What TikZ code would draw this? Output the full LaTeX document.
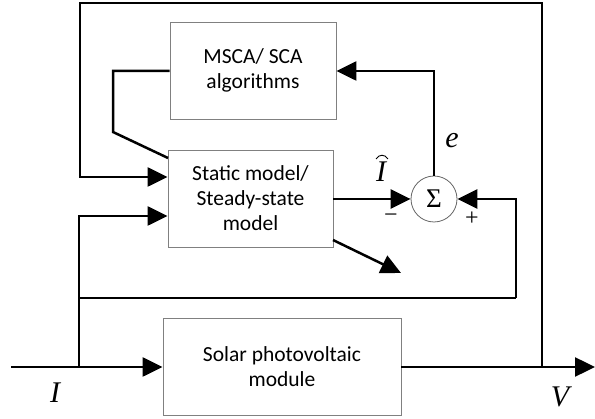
\documentclass[tikz,border=0pt]{standalone}
\usepackage{fontspec}
\setmainfont{Carlito}
\newfontfamily\mathserif{Liberation Serif}
\usetikzlibrary{arrows.meta,calc}
\begin{document}
\begin{tikzpicture}[x=1pt,y=-1pt,
  wire/.style={line width=2.5pt},
  arr/.style={wire,-{Triangle[length=20pt,width=19pt]}},
  blockbox/.style={draw=black!50,line width=0.9pt,fill=white,align=center,
    font=\fontsize{21.5}{25}\selectfont,inner sep=0pt},
  sumnode/.style={circle,draw=black!60,line width=0.8pt,minimum size=46pt,inner sep=0pt,
    font=\mathserif\fontsize{27}{27}\selectfont},
  lab/.style={font=\mathserif\itshape\fontsize{30}{30}\selectfont,inner sep=0pt},
  sgn/.style={font=\mathserif\fontsize{24}{24}\selectfont,inner sep=0pt}]
\useasboundingbox (0,0) rectangle (595,419);
% blocks
\node[blockbox,minimum width=166pt,minimum height=97pt] (msca) at (253,70.5) {MSCA/ SCA\\algorithms};
\node[blockbox,minimum width=165pt,minimum height=97pt] (static) at (250.5,198.5) {Static model/\\Steady-state\\model};
\node[blockbox,minimum width=238pt,minimum height=97pt] (solar) at (282,366.5) {Solar photovoltaic\\module};
\node[sumnode] (sum) at (434,199) {Σ};
% coordinates
\coordinate (inI) at (11,367);
\coordinate (outV) at (595,367);
\coordinate (jin) at (79,367);
\coordinate (jout) at (542,367);
\coordinate (jfb) at (79,298);
\coordinate (diagend) at (401,273);
% input / output
\draw[arr] (inI) -- (solar.west |- inI);
\draw[arr] (solar.east |- outV) -- (outV);
% top loop
\draw[arr] (jout) -- (542,3) -- (80,3) -- (80,177) -- (static.west |- 0,177);
% input current to static model
\draw[arr] (jin) -- (79,216) -- (static.west |- 0,216);
% feedback to sum
\draw[wire] (jfb) -- (516,298);
\draw[arr] (516,298) -- (516,199) -- (sum.east);
% Ihat
\draw[arr] (static.east |- sum) -- (sum.west);
% e to MSCA
\draw[arr] (sum.north) -- (434,71) -- (msca.east |- 0,71);
% MSCA to static
\draw[wire] (msca.west |- 0,71) -- (113,71) -- (113,132) -- (168,158);
% diagonal output arrow
\draw[arr] (333,240) -- (diagend);
% labels
\node[lab] (lI) at (55,393) {I};
\node[lab] (lV) at (560,397) {V};
\node[lab] (le) at (452,141) {e};
\node[lab] (lIh) at (381,172) {I};
\draw[line width=0.9pt] ($(lIh.north)+(-5,-3)$) .. controls ($(lIh.north)+(-2,-8)$) and ($(lIh.north)+(4,-8)$) .. ($(lIh.north)+(7,-3)$);
\node[sgn] (lminus) at (391,218) {−};
\node[sgn] (lplus) at (472,219) {+};
\end{tikzpicture}
\end{document}
